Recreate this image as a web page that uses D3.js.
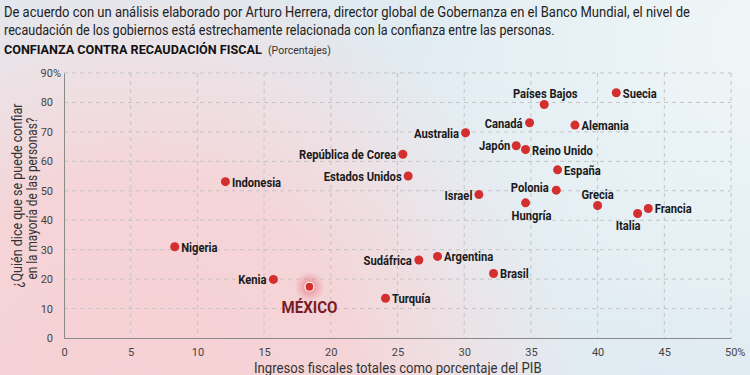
<!DOCTYPE html>
<html>
<head>
<meta charset="utf-8">
<script src="https://cdn.jsdelivr.net/npm/d3@7"></script>
<style>
  body { margin: 0; padding: 0; overflow: hidden; }
  svg { display: block; }
  text { font-family: Roboto, "DejaVu Sans", sans-serif; }
</style>
</head>
<body>
<script>
// Data
// =================================
var countries = ["Suecia", "Países Bajos", "Canadá", "Alemania", "Australia", "República de Corea",
  "Japón", "Reino Unido", "España", "Estados Unidos", "Indonesia", "Polonia", "Israel", "Grecia",
  "Hungría", "Francia", "Italia", "Nigeria", "Argentina", "Sudáfrica", "Brasil", "Kenia", "MÉXICO", "Turquía"];
var taxRevenue = [41.4, 36.0, 34.9, 38.3, 30.1, 25.4, 33.9, 34.6, 37.0, 25.8, 12.1, 36.9, 31.1, 40.0,
  34.6, 43.8, 43.0, 8.3, 28.0, 26.6, 32.2, 15.7, 18.4, 24.1];
var trust = [83.3, 79.3, 73.1, 72.3, 69.7, 62.4, 65.3, 64.0, 57.1, 55.0, 53.1, 50.2, 48.7, 45.0,
  45.9, 44.0, 42.3, 31.0, 27.7, 26.5, 21.9, 19.9, 17.4, 13.5];
var xTicks = [0, 5, 10, 15, 20, 25, 30, 35, 40, 45, 50];
var yTicks = [0, 10, 20, 30, 40, 50, 60, 70, 80, 90];

// label placement: anchor side and offsets (layout only), default = right of dot
var labelPos = {
  "Países Bajos": ["middle", 1, -11],
  "Canadá": ["end", -7, 0],
  "Australia": ["end", -6.5, 0],
  "República de Corea": ["end", -6.5, 0],
  "Japón": ["end", -6, -1],
  "Reino Unido": ["start", 6.5, 1],
  "Estados Unidos": ["end", -6.5, 0],
  "Polonia": ["end", -7.5, -3.5],
  "Israel": ["end", -6.5, 0],
  "Grecia": ["middle", 0, -11.5],
  "Hungría": ["middle", 6, 12],
  "Italia": ["middle", -9.5, 12],
  "Sudáfrica": ["end", -7, 0],
  "Kenia": ["end", -7, 0],
  "MÉXICO": ["middle", 0, 20.5]
};

var svgWidth = 750;
var svgHeight = 375;
var margin = { top: 73, right: 19, bottom: 37, left: 64 };
var width = svgWidth - margin.left - margin.right;
var height = svgHeight - margin.top - margin.bottom;

var svg = d3.select("body").append("svg")
  .attr("width", svgWidth)
  .attr("height", svgHeight);

// squeeze a text horizontally so it takes the given width (no condensed font installed)
function fitText(parent, x, y, txt, w, rot) {
  var t = parent.append("text").text(txt);
  return function(size, fill, weight) {
    t.attr("font-size", size).attr("fill", fill).style("font-weight", weight || "normal");
    var k = w / t.node().getComputedTextLength();
    t.attr("transform", `translate(${x}, ${y})${rot ? " rotate(" + rot + ")" : ""} scale(${k}, 1)`);
    return t;
  };
}

// Background
var defs = svg.append("defs");
var bg = defs.append("radialGradient")
  .attr("id", "bg")
  .attr("gradientUnits", "userSpaceOnUse")
  .attr("cx", 130).attr("cy", 400).attr("r", 520);
bg.append("stop").attr("offset", "0").attr("stop-color", "#f6d0d4");
bg.append("stop").attr("offset", "0.42").attr("stop-color", "#f5d4d7");
bg.append("stop").attr("offset", "0.66").attr("stop-color", "#ece2e6");
bg.append("stop").attr("offset", "0.86").attr("stop-color", "#dfeaf1");
bg.append("stop").attr("offset", "1").attr("stop-color", "#dce9f1");

var corner = defs.append("radialGradient")
  .attr("id", "corner")
  .attr("gradientUnits", "userSpaceOnUse")
  .attr("cx", 760).attr("cy", 40).attr("r", 420);
corner.append("stop").attr("offset", "0").attr("stop-color", "#f2f8f8").attr("stop-opacity", 0.9);
corner.append("stop").attr("offset", "0.6").attr("stop-color", "#eef5f7").attr("stop-opacity", 0.5);
corner.append("stop").attr("offset", "1").attr("stop-color", "#e8f1f5").attr("stop-opacity", 0);

var glow = defs.append("radialGradient").attr("id", "glow");
glow.append("stop").attr("offset", "0").attr("stop-color", "#d8343a").attr("stop-opacity", 0.55);
glow.append("stop").attr("offset", "0.6").attr("stop-color", "#e05058").attr("stop-opacity", 0.22);
glow.append("stop").attr("offset", "1").attr("stop-color", "#e05058").attr("stop-opacity", 0);

svg.append("rect").attr("width", svgWidth).attr("height", svgHeight).attr("fill", "url(#bg)");
svg.append("rect").attr("width", svgWidth).attr("height", svgHeight).attr("fill", "url(#corner)");

// Header texts
fitText(svg, 4, 17, "De acuerdo con un análisis elaborado por Arturo Herrera, director global de Gobernanza en el Banco Mundial, el nivel de", 686)("14px", "#222");
fitText(svg, 4, 35, "recaudación de los gobiernos está estrechamente relacionada con la confianza entre las personas.", 551)("14px", "#222");
fitText(svg, 4, 54, "CONFIANZA CONTRA RECAUDACIÓN FISCAL", 258)("13.5px", "#111", "bold");
fitText(svg, 268, 54, "(Porcentajes)", 63)("11.5px", "#333");

var chartGroup = svg.append("g")
  .attr("transform", `translate(${margin.left}, ${margin.top})`);

// Scales
var xScale = d3.scaleLinear().domain([0, 50]).range([0, width]);
var yScale = d3.scaleLinear().domain([0, 90]).range([height, 0]);

// Grid
chartGroup.append("g").selectAll("line").data(yTicks.slice(1)).enter().append("line")
  .attr("x1", 0).attr("x2", width)
  .attr("y1", d => yScale(d)).attr("y2", d => yScale(d))
  .attr("stroke", "#c4c4c4").attr("stroke-width", 1).attr("stroke-dasharray", "4,4");
chartGroup.append("g").selectAll("line").data(xTicks.slice(1)).enter().append("line")
  .attr("y1", 0).attr("y2", height)
  .attr("x1", d => xScale(d)).attr("x2", d => xScale(d))
  .attr("stroke", "#c4c4c4").attr("stroke-width", 1).attr("stroke-dasharray", "4,4");

// Axes
var bottomAxis = d3.axisBottom(xScale).tickValues(xTicks).tickSize(0).tickPadding(10)
  .tickFormat(d => d === 50 ? d + "%" : d);
var leftAxis = d3.axisLeft(yScale).tickValues(yTicks).tickSize(0).tickPadding(11)
  .tickFormat(d => d === 90 ? d + "%" : d);

var xg = chartGroup.append("g").attr("transform", `translate(0, ${height})`).call(bottomAxis);
var yg = chartGroup.append("g").call(leftAxis);
[xg, yg].forEach(function(g) {
  g.select(".domain").attr("stroke", "#8a8a8a").attr("stroke-width", 1);
  g.selectAll("text").attr("font-size", "11px").attr("fill", "#444")
    .attr("font-family", "Roboto, sans-serif");
});
// keep the numbers aligned, let the % sign hang outside
xg.selectAll(".tick text").filter(d => d === 50).attr("text-anchor", "start").attr("dx", "-6.5");
yg.selectAll(".tick text").filter(d => d === 90).attr("dx", "8");

// Axis titles
fitText(chartGroup, 190, height + 35, "Ingresos fiscales totales como porcentaje del PIB", 288)("15px", "#333");
fitText(chartGroup, -margin.left + 22, height / 2 + 82, "¿Quién dice que se puede confiar", 184, -90)("15px", "#333");
fitText(chartGroup, -margin.left + 37, height / 2 + 74, "en la mayoría de las personas?", 162, -90)("15px", "#333");

// Points
var points = countries.map(function(c, i) { return { name: c, x: taxRevenue[i], y: trust[i] }; });

var mx = points.find(d => d.name === "MÉXICO");
chartGroup.append("circle")
  .attr("cx", xScale(mx.x)).attr("cy", yScale(mx.y)).attr("r", 15)
  .attr("fill", "url(#glow)");

chartGroup.selectAll("circle.dot")
  .data(points)
  .enter()
  .append("circle")
  .attr("class", "dot")
  .attr("cx", d => xScale(d.x))
  .attr("cy", d => yScale(d.y))
  .attr("r", 4.5)
  .attr("fill", "#d42f2f")
  .attr("stroke", d => d.name === "MÉXICO" ? "#fff" : "none")
  .attr("stroke-width", 1.2);

// measure once to squeeze the labels into a condensed look
var probe = chartGroup.append("text").attr("font-size", "13.5px").style("font-weight", "bold")
  .text("Estados Unidos");
var kLabel = 78 / probe.node().getComputedTextLength();
probe.attr("font-size", "17px").text("MÉXICO");
var kMex = 56 / probe.node().getComputedTextLength();
probe.remove();

chartGroup.append("g")
  .selectAll("text")
  .data(points)
  .enter()
  .append("text")
  .text(d => d.name)
  .attr("transform", function(d) {
    var p = labelPos[d.name] || ["start", 6.5, 0];
    var k = d.name === "MÉXICO" ? kMex : kLabel;
    return `translate(${xScale(d.x) + p[1]}, ${yScale(d.y) + p[2]}) scale(${k}, 1)`;
  })
  .attr("text-anchor", d => labelPos[d.name] ? labelPos[d.name][0] : "start")
  .attr("dominant-baseline", "central")
  .attr("font-size", d => d.name === "MÉXICO" ? "17px" : "13.5px")
  .attr("fill", d => d.name === "MÉXICO" ? "#7b1c24" : "#1a1a1a")
  .style("font-weight", "bold");
</script>
</body>
</html>
